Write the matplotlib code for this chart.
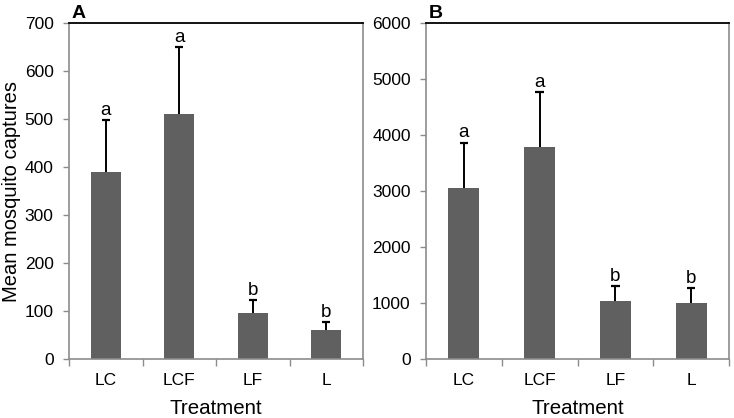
import numpy as np
import matplotlib.pyplot as plt

plt.rcParams['font.family'] = ['Liberation Sans', 'DejaVu Sans']

# data
treatments = ['LC', 'LCF', 'LF', 'L']
means_a = [390, 510, 96, 60]
upper_a = [498, 650, 123, 77]
letters_a = ['a', 'a', 'b', 'b']
means_b = [3060, 3780, 1030, 995]
upper_b = [3860, 4760, 1300, 1260]
letters_b = ['a', 'a', 'b', 'b']

W, H = 734, 418
fig = plt.figure(figsize=(W / 100, H / 100), dpi=100)

# axes boxes in pixels: left, right, top, bottom
boxes = [(69, 363, 23, 359), (426, 729, 23, 359)]
panels = [
    ('A', means_a, upper_a, letters_a, 700, 100),
    ('B', means_b, upper_b, letters_b, 6000, 1000),
]

spine_grey = '#8c8c8c'
x = np.arange(len(treatments))

for (l, r, t, b), (tag, means, upper, letters, ymax, step) in zip(boxes, panels):
    ax = fig.add_axes([l / W, 1 - b / H, (r - l) / W, (b - t) / H])
    ax.bar(x, means, width=0.41, color='#606060', zorder=2)
    # upper-only error bars with a cap
    ax.vlines(x, means, upper, color='black', lw=1.4, zorder=3)
    ax.hlines(upper, x - 0.055, x + 0.055, color='black', lw=1.6, zorder=3)
    for xi, u, s in zip(x, upper, letters):
        ax.text(xi, u + ymax * 0.004, s, ha='center', va='bottom', fontsize=13.5)

    ax.set_xlim(-0.5, len(treatments) - 0.5)
    ax.set_ylim(0, ymax)
    ax.set_yticks(np.arange(0, ymax + 1, step))
    ax.tick_params(axis='y', labelsize=12.5, length=4, width=1, color=spine_grey, pad=7)

    # excel style: ticks between categories, labels centred
    ax.set_xticks(np.arange(-0.5, len(treatments), 1))
    ax.set_xticklabels([])
    ax.set_xticks(x, minor=True)
    ax.set_xticklabels(treatments, minor=True)
    ax.tick_params(axis='x', which='major', length=5, width=1, color=spine_grey)
    ax.tick_params(axis='x', which='minor', length=0, labelsize=12.5, pad=10)
    ax.set_xlabel('Treatment', fontsize=14.8, labelpad=8)

    for side in ['left', 'bottom', 'right']:
        ax.spines[side].set_color(spine_grey)
        ax.spines[side].set_linewidth(1.2)
    ax.spines['top'].set_color('black')
    ax.spines['top'].set_linewidth(1.3)

    ax.text(l / W + 0.004, 1 - 14 / H, tag, transform=fig.transFigure,
            fontsize=14, fontweight='bold', ha='left', va='center')

    if tag == 'A':
        ax.set_ylabel('Mean mosquito captures', fontsize=14.5, labelpad=3)

fig.savefig('out.png', dpi=100)
